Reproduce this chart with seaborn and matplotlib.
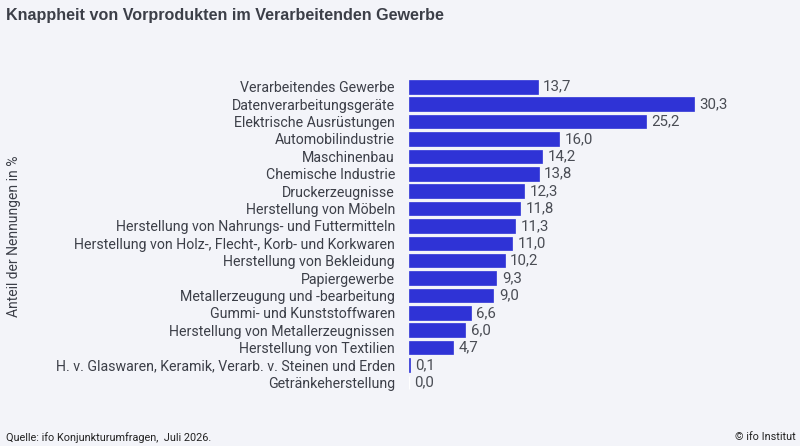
import pandas as pd
import seaborn as sns
from matplotlib import pyplot as plt

# Knappheit von Vorprodukten, Anteil der Nennungen in %
branchen = [
    "Verarbeitendes Gewerbe",
    "Datenverarbeitungsgeräte",
    "Elektrische Ausrüstungen",
    "Automobilindustrie",
    "Maschinenbau",
    "Chemische Industrie",
    "Druckerzeugnisse",
    "Herstellung von Möbeln",
    "Herstellung von Nahrungs- und Futtermitteln",
    "Herstellung von Holz-, Flecht-, Korb- und Korkwaren",
    "Herstellung von Bekleidung",
    "Papiergewerbe",
    "Metallerzeugung und -bearbeitung",
    "Gummi- und Kunststoffwaren",
    "Herstellung von Metallerzeugnissen",
    "Herstellung von Textilien",
    "H. v. Glaswaren, Keramik, Verarb. v. Steinen und Erden",
    "Getränkeherstellung",
]
anteile = [13.7, 30.3, 25.2, 16.0, 14.2, 13.8, 12.3, 11.8, 11.3, 11.0,
           10.2, 9.3, 9.0, 6.6, 6.0, 4.7, 0.1, 0.0]

df = pd.DataFrame({"branche": branchen, "anteil": anteile})

bg = "#f3f4f9"
blau = "#2f33d6"
grau = "#3c3f48"

sns.set_style("white")
plt.rcParams['font.family'] = ['Roboto', 'DejaVu Sans']

fig = plt.figure(figsize=(8, 4.46), dpi=100, facecolor=bg)
ax = fig.add_axes([0.511, 0.123, 0.47, 0.702])
ax.set_facecolor(bg)

sns.barplot(data=df, x="anteil", y="branche", orient="h", color=blau,
            saturation=1, width=0.78, ax=ax)

# sehr kleine Werte trotzdem als Strich sichtbar machen
for p in ax.patches:
    if p.get_width() > 0:
        p.set_edgecolor(blau)
        p.set_linewidth(0.5)

for c in ax.containers:
    ax.bar_label(c, labels=[f"{v:.1f}".replace(".", ",") for v in anteile],
                 padding=4, fontsize=10.8, color="#4a4d55")

ax.set_xlim(0, 40)
ax.set_ylim(len(branchen) - 0.5, -0.5)
ax.set_xlabel("")
ax.set_ylabel("")
ax.set_xticks([])
ax.tick_params(axis="y", length=0, pad=10, labelsize=10.2, labelcolor=grau)
for s in ax.spines.values():
    s.set_visible(False)

fig.text(0.008, 0.965, "Knappheit von Vorprodukten im Verarbeitenden Gewerbe",
         fontsize=11.6, fontweight="bold", color=grau, va="center",
         family=['Liberation Sans', 'DejaVu Sans'])
fig.text(0.018, 0.47, "Anteil der Nennungen in %", rotation=90, fontsize=10,
         color=grau, va="center", ha="center")
fig.text(0.008, 0.02, "Quelle: ifo Konjunkturumfragen,  Juli 2026.",
         fontsize=7.8, color="#222222", va="center")
fig.text(0.995, 0.02, "© ifo Institut", fontsize=7.8, color="#222222",
         va="center", ha="right")

fig.savefig("out.png", dpi=100, facecolor=bg)
